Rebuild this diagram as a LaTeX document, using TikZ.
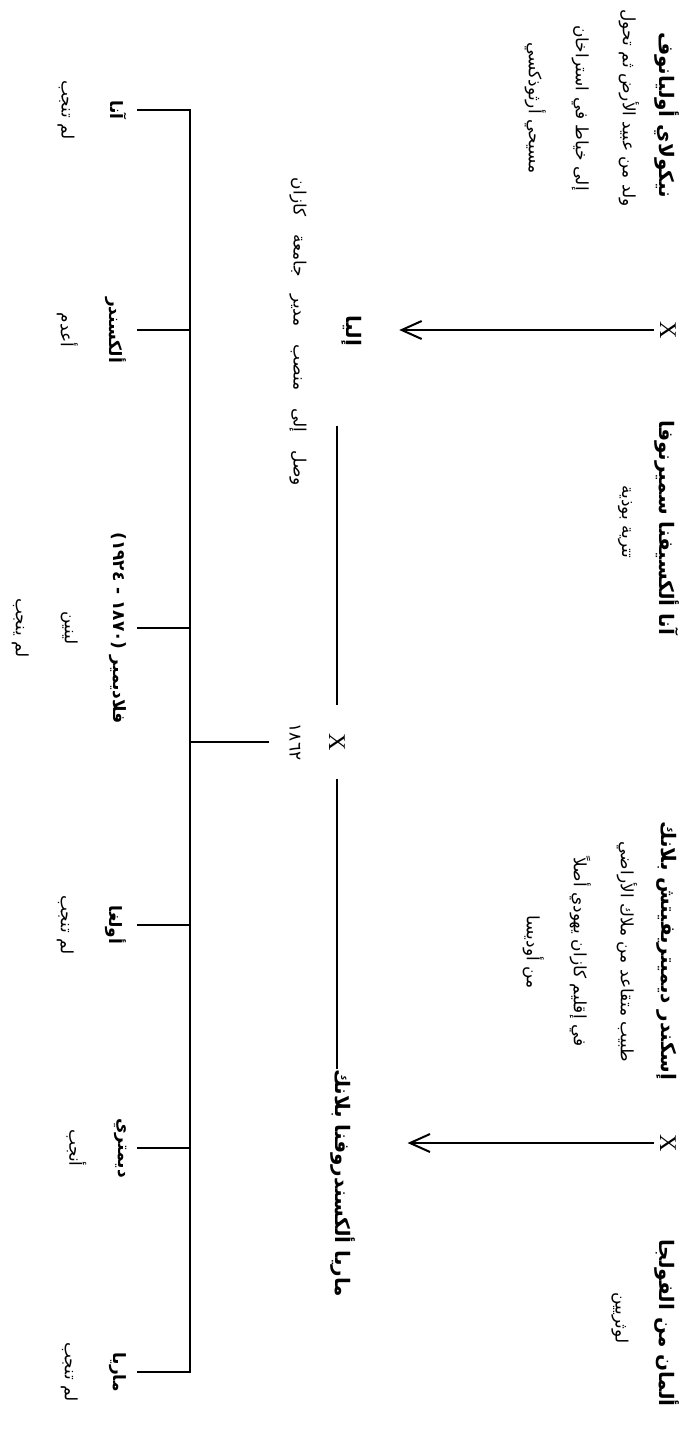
\documentclass[tikz,border=0pt]{standalone}
\usepackage{fontspec}
\setmainfont{Liberation Serif}
\newfontfamily\arabicfont[Script=Arabic]{DejaVu Sans}
\usepackage{tikz}
\usetikzlibrary{arrows.meta, calc}
\TeXXeTstate=1

\begin{document}
\begin{tikzpicture}[x=1pt, y=1pt]

% Page frame
\useasboundingbox (0,0) rectangle (698,-1432);

% Text styles (all text turned a quarter clockwise)
\tikzset{nm/.style={rotate=-90, font=\arabicfont\bfseries\fontsize{20}{24}\selectfont, inner sep=0pt}}
\tikzset{ds/.style={rotate=-90, font=\arabicfont\fontsize{17}{47}\selectfont, align=center, inner sep=0pt}}
\tikzset{ch/.style={rotate=-90, font=\arabicfont\fontsize{17}{49}\selectfont, align=center, anchor=north, inner sep=10pt}}
\tikzset{xm/.style={rotate=-90, font=\fontsize{24}{26}\selectfont, inner sep=6pt}}

% Line styles
\tikzset{ln/.style={line width=1.5pt}}
\tikzset{lnA/.style={ln, -{Straight Barb[length=20pt, width=18pt, line width=2pt]}}}

% Grandparents
\node (nik) [nm] at (667,-115) {\beginR نيكولاي أوليانوف\endR};
\node (nikd) [ds] at (582,-108) {\beginR ولد من عبيد الأرض ثم تحول\endR\\\beginR إلى خياط في استراخان\endR\\\beginR مسيحي أرثوذكسي\endR};
\node (xtop) [xm] at (668,-330) {X};
\node (ann) [nm] at (667,-528) {\beginR آنا ألكسيفنا سميرنوفا\endR};
\node (annd) [ds] at (625,-522) {\beginR تترية بوذية\endR};

\node (bla) [nm] at (667,-951) {\beginR إسكندر ديميتريفيتش بلانك\endR};
\node (blad) [ds] at (580,-952) {\beginR طبيب متقاعد من ملاك الأراضي\endR\\\beginR في إقليم كازان يهودي أصلاً\endR\\\beginR من أوديسا\endR};
\node (xbot) [xm] at (668,-1143) {X};
\node (ger) [nm] at (667,-1323) {\beginR ألمان من الفولجا\endR};
\node (gerd) [ds] at (620,-1318) {\beginR لوثريين\endR};

% Parents
\node (ilya) [nm] at (352,-331) {\beginR إليا\endR};
\node (ilyad) [ds] at (298,-332) {\spaceskip=18pt\relax\beginR وصل إلى منصب مدير جامعة كازان\endR};
\node (mx) [xm, inner xsep=28pt] at (337,-742) {X};
\node (yr) [ds, inner ysep=20pt] at (295,-742) {١٨٦٢};
\node (mar) [nm] at (343,-1183) {\beginR ماريا ألكسندروفنا بلانك\endR};

% Children
\node (c1) [ch] at (137,-110) {{\bfseries\beginR آنا\endR}\\\beginR لم تنجب\endR};
\node (c2) [ch] at (137,-330) {{\bfseries\beginR ألكسندر\endR}\\\beginR أعدم\endR};
\node (c3) [ch] at (137,-628) {{\bfseries\beginR فلاديمير (١٨٧٠ - ١٩٢٤)\endR}\\\beginR لينين\endR\\\beginR لم ينجب\endR};
\node (c4) [ch] at (137,-925) {{\bfseries\beginR أولغا\endR}\\\beginR لم تنجب\endR};
\node (c5) [ch] at (137,-1148) {{\bfseries\beginR ديمتري\endR}\\\beginR أنجب\endR};
\node (c6) [ch] at (137,-1372) {{\bfseries\beginR ماريا\endR}\\\beginR لم تنجب\endR};

% Bus points
\coordinate (b2) at (190,-330);
\coordinate (b3) at (190,-628);
\coordinate (bm) at (190,-742);
\coordinate (b4) at (190,-925);
\coordinate (b5) at (190,-1148);

% Descent arrows
\draw[lnA, shorten >=37pt] (xtop) -- (xtop -| ilya.north);
\draw[lnA, shorten >=52pt] (xbot) -- (xbot -| mar.north);

% Marriage line
\draw[ln, shorten <=80pt] (mx |- ilya.east) -- (mx);
\draw[ln] (mx) -- (mx |- mar.west);
\draw[ln] (yr) -- (bm);

% Children bus
\draw[ln] (c1) -- (c1 -| bm) -- (c6 -| bm) -- (c6);
\draw[ln] (b2) -- (c2);
\draw[ln] (b3) -- (c3);
\draw[ln] (b4) -- (c4);
\draw[ln] (b5) -- (c5);

\end{tikzpicture}
\end{document}
